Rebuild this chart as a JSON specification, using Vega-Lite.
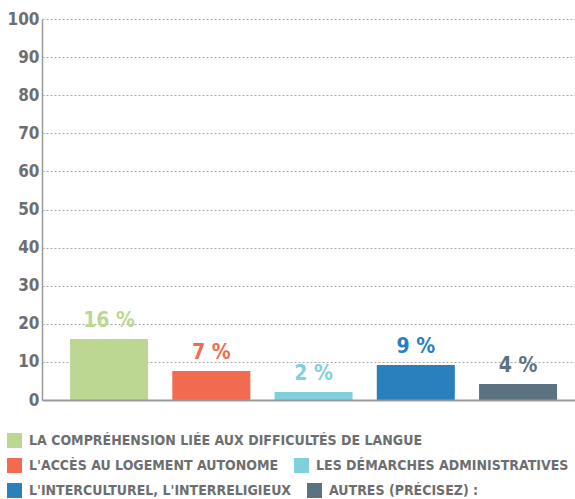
{
  "$schema": "https://vega.github.io/schema/vega-lite/v6.json",
  "width": 533,
  "height": 381,
  "autosize": {"type": "none"},
  "padding": {"left": 42, "top": 19, "right": 0, "bottom": 99},
  "background": "white",
  "config": {"view": {"stroke": null}, "font": "DejaVu Sans Condensed, Roboto, sans-serif"},
  "data": {"values": [
    {"cat": "LA COMPRÉHENSION LIÉE AUX DIFFICULTÉS DE LANGUE", "value": 16, "label": "16 %"},
    {"cat": "L'ACCÈS AU LOGEMENT AUTONOME", "value": 7.6, "label": "7 %"},
    {"cat": "LES DÉMARCHES ADMINISTRATIVES", "value": 2.1, "label": "2 %"},
    {"cat": "L'INTERCULTUREL, L'INTERRELIGIEUX", "value": 9.2, "label": "9 %"},
    {"cat": "AUTRES (PRÉCISEZ) :", "value": 4.2, "label": "4 %"}
  ]},
  "encoding": {
    "x": {"field": "cat", "type": "nominal", "sort": null,
      "scale": {"domain": ["LA COMPRÉHENSION LIÉE AUX DIFFICULTÉS DE LANGUE", "L'ACCÈS AU LOGEMENT AUTONOME", "LES DÉMARCHES ADMINISTRATIVES", "L'INTERCULTUREL, L'INTERRELIGIEUX", "AUTRES (PRÉCISEZ) :"], "paddingInner": 0.237, "paddingOuter": 0.225, "align": 0.61},
      "axis": {"labels": false, "ticks": false, "title": null, "domainColor": "#9a9a9a", "domainWidth": 2, "zindex": 1}},
    "y": {"field": "value", "type": "quantitative",
      "scale": {"domain": [0, 100], "nice": false},
      "axis": {"values": [0, 10, 20, 30, 40, 50, 60, 70, 80, 90, 100], "title": null, "ticks": false, "grid": true, "gridDash": [2, 2], "gridColor": "#a8a8a8", "domainColor": "#9a9a9a", "domainWidth": 1.5, "labelFontSize": 17, "labelFontWeight": "bold", "labelColor": "#6d6e70", "labelPadding": 3}}
  },
  "layer": [
    {
      "transform": [{"filter": {"field": "cat", "oneOf": ["LA COMPRÉHENSION LIÉE AUX DIFFICULTÉS DE LANGUE"]}}],
      "encoding": {"color": {"field": "cat", "type": "nominal", "scale": {"domain": ["LA COMPRÉHENSION LIÉE AUX DIFFICULTÉS DE LANGUE"], "range": ["#bcd792"]},
        "legend": {"orient": "none", "legendX": -35, "legendY": 414, "direction": "horizontal", "title": null, "padding": 0, "symbolType": "square", "symbolSize": 225, "symbolStrokeWidth": 0, "labelOffset": 7, "labelLimit": 560, "columnPadding": 15, "labelFontSize": 14, "labelFontWeight": "bold", "labelColor": "#6d6e70"}}},
      "layer": [
        {"mark": {"type": "bar"}},
        {"mark": {"type": "text", "baseline": "alphabetic", "dy": -12, "fontSize": 21, "fontWeight": "bold"}, "encoding": {"text": {"field": "label"}}}
      ]
    },
    {
      "transform": [{"filter": {"field": "cat", "oneOf": ["L'ACCÈS AU LOGEMENT AUTONOME", "LES DÉMARCHES ADMINISTRATIVES"]}}],
      "encoding": {"color": {"field": "cat", "type": "nominal", "scale": {"domain": ["L'ACCÈS AU LOGEMENT AUTONOME", "LES DÉMARCHES ADMINISTRATIVES"], "range": ["#f26b50", "#80d0db"]},
        "legend": {"orient": "none", "legendX": -35, "legendY": 439, "direction": "horizontal", "title": null, "padding": 0, "symbolType": "square", "symbolSize": 225, "symbolStrokeWidth": 0, "labelOffset": 7, "labelLimit": 560, "columnPadding": 15, "labelFontSize": 14, "labelFontWeight": "bold", "labelColor": "#6d6e70"}}},
      "layer": [
        {"mark": {"type": "bar"}},
        {"mark": {"type": "text", "baseline": "alphabetic", "dy": -12, "fontSize": 21, "fontWeight": "bold"}, "encoding": {"text": {"field": "label"}}}
      ]
    },
    {
      "transform": [{"filter": {"field": "cat", "oneOf": ["L'INTERCULTUREL, L'INTERRELIGIEUX", "AUTRES (PRÉCISEZ) :"]}}],
      "encoding": {"color": {"field": "cat", "type": "nominal", "scale": {"domain": ["L'INTERCULTUREL, L'INTERRELIGIEUX", "AUTRES (PRÉCISEZ) :"], "range": ["#2980bd", "#5b7282"]},
        "legend": {"orient": "none", "legendX": -35, "legendY": 464, "direction": "horizontal", "title": null, "padding": 0, "symbolType": "square", "symbolSize": 225, "symbolStrokeWidth": 0, "labelOffset": 7, "labelLimit": 560, "columnPadding": 15, "labelFontSize": 14, "labelFontWeight": "bold", "labelColor": "#6d6e70"}}},
      "layer": [
        {"mark": {"type": "bar"}},
        {"mark": {"type": "text", "baseline": "alphabetic", "dy": -12, "fontSize": 21, "fontWeight": "bold"}, "encoding": {"text": {"field": "label"}}}
      ]
    }
  ],
  "resolve": {"scale": {"color": "independent"}, "legend": {"color": "independent"}}
}
